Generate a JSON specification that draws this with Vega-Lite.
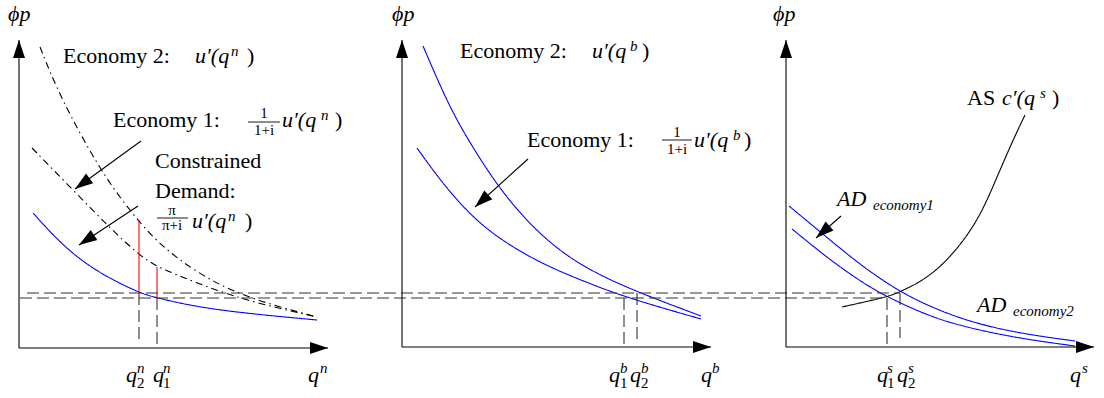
{
  "$schema": "https://vega.github.io/schema/vega-lite/v6.json",
  "width": 1104,
  "height": 398,
  "padding": 0,
  "autosize": {"type": "fit", "contains": "padding"},
  "config": {"view": {"stroke": null}, "font": "serif"},
  "datasets": {
    "curves": [
      {"curve": "money_e2", "kind": "reference", "x": 4.0, "y": 35.1},
      {"curve": "money_e2", "kind": "reference", "x": 6.0, "y": 30.1},
      {"curve": "money_e2", "kind": "reference", "x": 10.0, "y": 22.8},
      {"curve": "money_e2", "kind": "reference", "x": 12.7, "y": 19.1},
      {"curve": "money_e2", "kind": "reference", "x": 15.7, "y": 15.5},
      {"curve": "money_e2", "kind": "reference", "x": 19.7, "y": 12.5},
      {"curve": "money_e2", "kind": "reference", "x": 24.3, "y": 10.1},
      {"curve": "money_e2", "kind": "reference", "x": 31.7, "y": 8.1},
      {"curve": "money_e1", "kind": "reference", "x": 3.2, "y": 25.0},
      {"curve": "money_e1", "kind": "reference", "x": 7.3, "y": 20.8},
      {"curve": "money_e1", "kind": "reference", "x": 11.0, "y": 17.0},
      {"curve": "money_e1", "kind": "reference", "x": 13.9, "y": 14.3},
      {"curve": "money_e1", "kind": "reference", "x": 15.7, "y": 13.1},
      {"curve": "money_e1", "kind": "reference", "x": 19.7, "y": 11.5},
      {"curve": "money_e1", "kind": "reference", "x": 24.3, "y": 9.8},
      {"curve": "money_e1", "kind": "reference", "x": 31.7, "y": 8.1},
      {"curve": "money_cd", "kind": "demand", "x": 3.3, "y": 18.5},
      {"curve": "money_cd", "kind": "demand", "x": 6.0, "y": 15.5},
      {"curve": "money_cd", "kind": "demand", "x": 9.3, "y": 12.8},
      {"curve": "money_cd", "kind": "demand", "x": 13.9, "y": 10.5},
      {"curve": "money_cd", "kind": "demand", "x": 15.7, "y": 10.0},
      {"curve": "money_cd", "kind": "demand", "x": 21.0, "y": 8.8},
      {"curve": "money_cd", "kind": "demand", "x": 31.7, "y": 7.8},
      {"curve": "bond_e2", "kind": "demand", "x": 42.3, "y": 35.2},
      {"curve": "bond_e2", "kind": "demand", "x": 44.5, "y": 30.1},
      {"curve": "bond_e2", "kind": "demand", "x": 46.2, "y": 26.8},
      {"curve": "bond_e2", "kind": "demand", "x": 49.5, "y": 21.5},
      {"curve": "bond_e2", "kind": "demand", "x": 52.8, "y": 17.5},
      {"curve": "bond_e2", "kind": "demand", "x": 56.2, "y": 14.5},
      {"curve": "bond_e2", "kind": "demand", "x": 59.5, "y": 12.5},
      {"curve": "bond_e2", "kind": "demand", "x": 63.7, "y": 10.6},
      {"curve": "bond_e2", "kind": "demand", "x": 70.1, "y": 8.2},
      {"curve": "bond_e1", "kind": "demand", "x": 41.7, "y": 25.0},
      {"curve": "bond_e1", "kind": "demand", "x": 44.5, "y": 21.1},
      {"curve": "bond_e1", "kind": "demand", "x": 47.8, "y": 17.5},
      {"curve": "bond_e1", "kind": "demand", "x": 51.2, "y": 15.1},
      {"curve": "bond_e1", "kind": "demand", "x": 54.5, "y": 13.3},
      {"curve": "bond_e1", "kind": "demand", "x": 57.8, "y": 11.9},
      {"curve": "bond_e1", "kind": "demand", "x": 62.4, "y": 10.1},
      {"curve": "bond_e1", "kind": "demand", "x": 70.1, "y": 7.9},
      {"curve": "ad_e2", "kind": "demand", "x": 78.9, "y": 19.2},
      {"curve": "ad_e2", "kind": "demand", "x": 83.0, "y": 15.8},
      {"curve": "ad_e2", "kind": "demand", "x": 86.3, "y": 13.1},
      {"curve": "ad_e2", "kind": "demand", "x": 90.0, "y": 10.6},
      {"curve": "ad_e2", "kind": "demand", "x": 93.3, "y": 9.0},
      {"curve": "ad_e2", "kind": "demand", "x": 97.3, "y": 7.5},
      {"curve": "ad_e2", "kind": "demand", "x": 102.3, "y": 6.4},
      {"curve": "ad_e2", "kind": "demand", "x": 107.5, "y": 5.7},
      {"curve": "ad_e1", "kind": "demand", "x": 79.2, "y": 16.9},
      {"curve": "ad_e1", "kind": "demand", "x": 83.0, "y": 13.8},
      {"curve": "ad_e1", "kind": "demand", "x": 86.3, "y": 11.5},
      {"curve": "ad_e1", "kind": "demand", "x": 88.7, "y": 10.1},
      {"curve": "ad_e1", "kind": "demand", "x": 93.3, "y": 8.0},
      {"curve": "ad_e1", "kind": "demand", "x": 97.3, "y": 6.9},
      {"curve": "ad_e1", "kind": "demand", "x": 102.3, "y": 5.9},
      {"curve": "ad_e1", "kind": "demand", "x": 107.5, "y": 5.2},
      {"curve": "as", "kind": "supply", "x": 84.2, "y": 9.1},
      {"curve": "as", "kind": "supply", "x": 88.7, "y": 10.1},
      {"curve": "as", "kind": "supply", "x": 90.0, "y": 10.6},
      {"curve": "as", "kind": "supply", "x": 93.0, "y": 12.1},
      {"curve": "as", "kind": "supply", "x": 95.7, "y": 14.8},
      {"curve": "as", "kind": "supply", "x": 98.0, "y": 18.1},
      {"curve": "as", "kind": "supply", "x": 99.7, "y": 22.1},
      {"curve": "as", "kind": "supply", "x": 101.3, "y": 25.8},
      {"curve": "as", "kind": "supply", "x": 102.5, "y": 28.3}
    ],
    "guides": [
      {"x": 2.7, "y": 10.5, "tx": 90.0, "ty": 10.5},
      {"x": 2.0, "y": 10.0, "tx": 88.7, "ty": 10.0},
      {"x": 13.9, "y": 10.5, "tx": 13.9, "ty": 5.8},
      {"x": 15.7, "y": 10.0, "tx": 15.7, "ty": 5.0},
      {"x": 62.4, "y": 10.0, "tx": 62.4, "ty": 5.1},
      {"x": 63.7, "y": 10.5, "tx": 63.7, "ty": 5.8},
      {"x": 88.7, "y": 10.0, "tx": 88.7, "ty": 5.1},
      {"x": 90.0, "y": 10.5, "tx": 90.0, "ty": 6.0}
    ],
    "wedges": [
      {"x": 13.9, "y": 17.8, "tx": 13.9, "ty": 10.5},
      {"x": 15.7, "y": 13.1, "tx": 15.7, "ty": 10.0}
    ],
    "arrows": [
      {"x": 1.9, "y": 5.0, "tx": 1.9, "ty": 35.8},
      {"x": 1.9, "y": 5.0, "tx": 32.8, "ty": 5.0},
      {"x": 40.2, "y": 5.1, "tx": 40.2, "ty": 35.8},
      {"x": 40.2, "y": 5.1, "tx": 71.1, "ty": 5.1},
      {"x": 78.6, "y": 5.1, "tx": 78.6, "ty": 35.8},
      {"x": 78.6, "y": 5.1, "tx": 109.4, "ty": 5.1},
      {"x": 14.1, "y": 25.7, "tx": 7.5, "ty": 20.9},
      {"x": 13.8, "y": 19.2, "tx": 7.9, "ty": 15.3},
      {"x": 52.8, "y": 23.9, "tx": 47.5, "ty": 19.1},
      {"x": 84.1, "y": 18.2, "tx": 81.6, "ty": 16.0}
    ],
    "bars": [
      {"x": 24.8, "y": 27.6, "tx": 28.0},
      {"x": 15.7, "y": 18.0, "tx": 18.8},
      {"x": 66.2, "y": 25.8, "tx": 69.2}
    ],
    "labels": [
      {"role": "word", "text": "Economy 2:", "x": 6.3, "y": 33.5},
      {"role": "word", "text": "Economy 1:", "x": 11.3, "y": 27.1},
      {"role": "word", "text": "Constrained", "x": 15.5, "y": 23.0},
      {"role": "word", "text": "Demand:", "x": 15.5, "y": 20.0},
      {"role": "word", "text": "Economy 2:", "x": 46.0, "y": 34.0},
      {"role": "word", "text": "Economy 1:", "x": 52.7, "y": 25.1},
      {"role": "word", "text": "AS", "x": 96.7, "y": 29.3},
      {"role": "word", "text": ")", "x": 24.7, "y": 33.5},
      {"role": "word", "text": ")", "x": 33.5, "y": 27.1},
      {"role": "word", "text": ")", "x": 24.5, "y": 17.0},
      {"role": "word", "text": ")", "x": 64.2, "y": 34.0},
      {"role": "word", "text": ")", "x": 74.4, "y": 25.1},
      {"role": "word", "text": ")", "x": 105.2, "y": 29.3},
      {"role": "math", "text": "ϕp", "x": 0.8, "y": 37.7},
      {"role": "math", "text": "ϕp", "x": 39.2, "y": 37.7},
      {"role": "math", "text": "ϕp", "x": 77.3, "y": 37.7},
      {"role": "math", "text": "u′(q", "x": 19.5, "y": 33.5},
      {"role": "math", "text": "u′(q", "x": 28.2, "y": 27.1},
      {"role": "math", "text": "u′(q", "x": 19.2, "y": 17.0},
      {"role": "math", "text": "u′(q", "x": 59.2, "y": 34.0},
      {"role": "math", "text": "u′(q", "x": 69.4, "y": 25.1},
      {"role": "math", "text": "c′(q", "x": 100.2, "y": 29.3},
      {"role": "math", "text": "AD", "x": 83.7, "y": 19.2},
      {"role": "math", "text": "AD", "x": 97.7, "y": 8.6},
      {"role": "math", "text": "q", "x": 12.6, "y": 1.6},
      {"role": "math", "text": "q", "x": 15.3, "y": 1.6},
      {"role": "math", "text": "q", "x": 30.8, "y": 1.6},
      {"role": "math", "text": "q", "x": 60.9, "y": 1.6},
      {"role": "math", "text": "q", "x": 63.0, "y": 1.6},
      {"role": "math", "text": "q", "x": 70.1, "y": 1.6},
      {"role": "math", "text": "q", "x": 87.7, "y": 1.6},
      {"role": "math", "text": "q", "x": 89.7, "y": 1.6},
      {"role": "math", "text": "q", "x": 107.0, "y": 1.6},
      {"role": "script", "text": "n", "x": 23.1, "y": 34.2},
      {"role": "script", "text": "n", "x": 32.1, "y": 27.8},
      {"role": "script", "text": "n", "x": 22.8, "y": 17.7},
      {"role": "script", "text": "b", "x": 63.0, "y": 34.7},
      {"role": "script", "text": "b", "x": 73.3, "y": 25.8},
      {"role": "script", "text": "s", "x": 104.0, "y": 30.0},
      {"role": "script", "text": "n", "x": 13.7, "y": 2.5},
      {"role": "script", "text": "n", "x": 16.3, "y": 2.5},
      {"role": "script", "text": "n", "x": 32.0, "y": 2.5},
      {"role": "script", "text": "b", "x": 62.0, "y": 2.5},
      {"role": "script", "text": "b", "x": 64.1, "y": 2.5},
      {"role": "script", "text": "b", "x": 71.2, "y": 2.5},
      {"role": "script", "text": "s", "x": 88.7, "y": 2.5},
      {"role": "script", "text": "s", "x": 90.8, "y": 2.5},
      {"role": "script", "text": "s", "x": 108.2, "y": 2.5},
      {"role": "script", "text": "economy1", "x": 87.3, "y": 18.8},
      {"role": "script", "text": "economy2", "x": 101.3, "y": 8.2},
      {"role": "index", "text": "2", "x": 13.7, "y": 1.0},
      {"role": "index", "text": "1", "x": 16.3, "y": 1.0},
      {"role": "index", "text": "1", "x": 62.0, "y": 1.0},
      {"role": "index", "text": "2", "x": 64.1, "y": 1.0},
      {"role": "index", "text": "1", "x": 88.7, "y": 1.0},
      {"role": "index", "text": "2", "x": 90.8, "y": 1.0},
      {"role": "frac", "text": "1", "x": 26.4, "y": 28.0},
      {"role": "frac", "text": "1+i", "x": 26.4, "y": 26.3},
      {"role": "frac", "text": "π", "x": 17.2, "y": 18.3},
      {"role": "frac", "text": "π+i", "x": 17.2, "y": 16.8},
      {"role": "frac", "text": "1", "x": 67.7, "y": 26.1},
      {"role": "frac", "text": "1+i", "x": 67.7, "y": 24.4}
    ]
  },
  "encoding": {
    "x": {"field": "x", "type": "quantitative", "scale": {"domain": [0, 110.4], "nice": false, "zero": false}, "axis": null},
    "y": {"field": "y", "type": "quantitative", "scale": {"domain": [0, 39.8], "nice": false, "zero": false}, "axis": null}
  },
  "layer": [
    {
      "data": {"name": "curves"},
      "mark": {"type": "line", "interpolate": "basis", "strokeWidth": 1.1},
      "encoding": {
        "detail": {"field": "curve"},
        "color": {"field": "kind", "type": "nominal", "legend": null,
          "scale": {"domain": ["demand", "reference", "supply"], "range": ["#0000ff", "#000000", "#000000"]}},
        "strokeDash": {"field": "kind", "type": "nominal", "legend": null,
          "scale": {"domain": ["demand", "reference", "supply"], "range": [[1, 0], [7, 4, 1.5, 4], [1, 0]]}}
      }
    },
    {
      "data": {"name": "wedges"},
      "mark": {"type": "rule", "color": "#ff0000", "strokeWidth": 1.1},
      "encoding": {"x2": {"field": "tx"}, "y2": {"field": "ty"}}
    },
    {
      "data": {"name": "guides"},
      "mark": {"type": "rule", "color": "#333333", "strokeWidth": 1.1, "strokeDash": [12, 5]},
      "encoding": {"x2": {"field": "tx"}, "y2": {"field": "ty"}}
    },
    {
      "data": {"name": "arrows"},
      "mark": {"type": "rule", "color": "#000000", "strokeWidth": 1.1},
      "encoding": {"x2": {"field": "tx"}, "y2": {"field": "ty"}}
    },
    {
      "data": {"name": "arrows"},
      "transform": [{"calculate": "atan2(datum.tx - datum.x, datum.ty - datum.y) * 180 / PI", "as": "angle"}],
      "mark": {"type": "point", "shape": "M0,0L0.6,1.8L-0.6,1.8Z", "filled": true, "color": "#000000", "opacity": 1, "size": 400, "strokeWidth": 0},
      "encoding": {
        "x": {"field": "tx", "type": "quantitative"},
        "y": {"field": "ty", "type": "quantitative"},
        "angle": {"field": "angle", "type": "quantitative", "scale": null}
      }
    },
    {
      "data": {"name": "bars"},
      "mark": {"type": "rule", "color": "#000000", "strokeWidth": 0.9},
      "encoding": {"x2": {"field": "tx"}}
    },
    {
      "data": {"name": "labels"},
      "transform": [{"filter": "datum.role === 'word'"}],
      "mark": {"type": "text", "align": "left", "baseline": "alphabetic", "font": "serif", "fontSize": 22},
      "encoding": {"text": {"field": "text"}}
    },
    {
      "data": {"name": "labels"},
      "transform": [{"filter": "datum.role === 'math'"}],
      "mark": {"type": "text", "align": "left", "baseline": "alphabetic", "font": "serif", "fontStyle": "italic", "fontSize": 22},
      "encoding": {"text": {"field": "text"}}
    },
    {
      "data": {"name": "labels"},
      "transform": [{"filter": "datum.role === 'script'"}],
      "mark": {"type": "text", "align": "left", "baseline": "alphabetic", "font": "serif", "fontStyle": "italic", "fontSize": 15},
      "encoding": {"text": {"field": "text"}}
    },
    {
      "data": {"name": "labels"},
      "transform": [{"filter": "datum.role === 'index'"}],
      "mark": {"type": "text", "align": "left", "baseline": "alphabetic", "font": "serif", "fontSize": 15},
      "encoding": {"text": {"field": "text"}}
    },
    {
      "data": {"name": "labels"},
      "transform": [{"filter": "datum.role === 'frac'"}],
      "mark": {"type": "text", "align": "center", "baseline": "alphabetic", "font": "serif", "fontSize": 15},
      "encoding": {"text": {"field": "text"}}
    }
  ]
}
